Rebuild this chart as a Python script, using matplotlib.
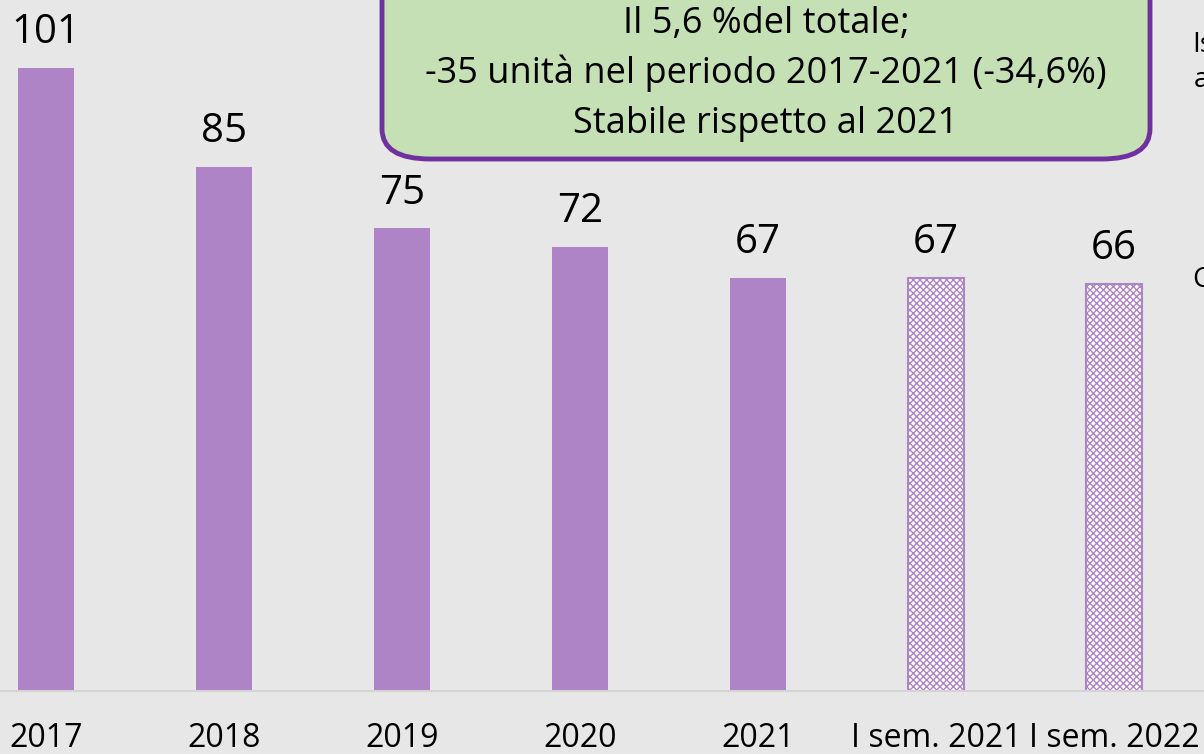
import matplotlib.pyplot as plt
from matplotlib.patches import FancyBboxPatch

plt.rcParams['font.family'] = ['Open Sans', 'DejaVu Sans']

# dati
categorie = ["2017", "2018", "2019", "2020", "2021", "I sem. 2021", "I sem. 2022"]
valori = [101, 85, 75, 72, 67, 67, 66]
tratteggiati = [False, False, False, False, False, True, True]
nota = ["Il 5,6 %del totale;",
        "-35 unità nel periodo 2017-2021 (-34,6%)",
        "Stabile rispetto al 2021"]

bg = "#E7E7E7"
viola = "#AE84C6"

fig = plt.figure(figsize=(12.04, 7.54), dpi=100)
fig.patch.set_facecolor(bg)
ax = fig.add_axes([0, 63 / 754, 1, 691 / 754])
ax.set_facecolor(bg)

x = list(range(len(categorie)))
for xi, v, h in zip(x, valori, tratteggiati):
    if h:
        ax.bar(xi, v, width=0.315, facecolor="white", edgecolor=viola,
               hatch="xxxxx", linewidth=1.5)
    else:
        ax.bar(xi, v, width=0.315, color=viola)
    ax.text(xi, v + 4, str(v), ha="center", va="baseline", fontsize=29)

ax.set_xlim(-0.258, 6.506)
ax.set_ylim(0, 112)
ax.set_yticks([])
ax.set_xticks(x)
ax.set_xticklabels(categorie, fontsize=23)
ax.tick_params(axis="x", length=0, pad=22)
for s in ["top", "right", "left"]:
    ax.spines[s].set_visible(False)
ax.spines["bottom"].set_color("#D4D4D4")
ax.spines["bottom"].set_linewidth(1.5)

# riquadro nota
box = FancyBboxPatch((382 / 1204, 1 - 159 / 754), 768 / 1204, 0.3,
                     boxstyle="round,pad=0,rounding_size=0.04",
                     transform=fig.transFigure, facecolor="#C5E0B4",
                     edgecolor="#7030A0", linewidth=3.5, clip_on=False, zorder=5)
fig.patches.append(box)
for yy, t in zip([33, 83, 133], nota):
    fig.text(766 / 1204, 1 - yy / 754, t, ha="center", va="baseline",
             fontsize=26, zorder=6)

# testi tagliati a destra (come nell'originale)
fig.text(1192 / 1204, 1 - 52 / 754, "Is", ha="left", va="baseline", fontsize=20)
fig.text(1194 / 1204, 1 - 87 / 754, "a", ha="left", va="baseline", fontsize=20)
fig.text(1192 / 1204, 1 - 287 / 754, "C", ha="left", va="baseline", fontsize=20)

fig.savefig("out.png", dpi=100, facecolor=bg)
